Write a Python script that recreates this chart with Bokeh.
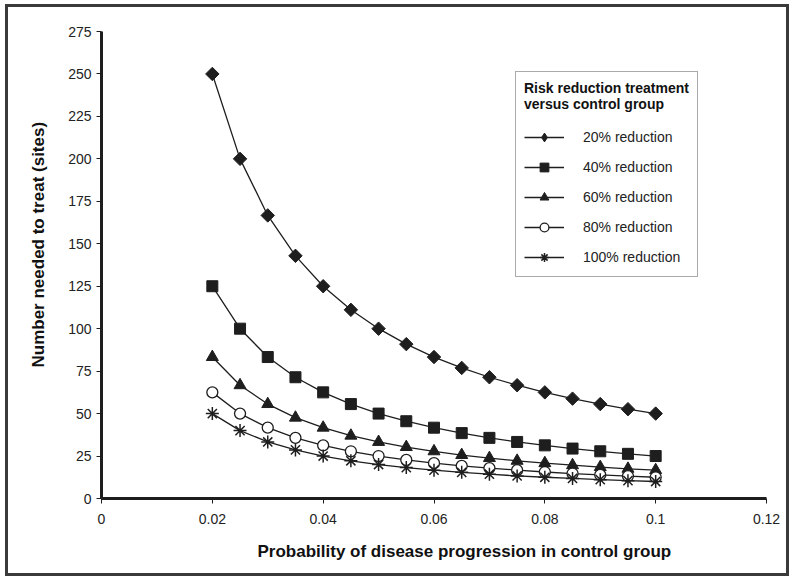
import math
from bokeh.plotting import figure
from bokeh.models import Legend, LegendItem, FixedTicker, NumeralTickFormatter, Range1d, Title
from bokeh.embed import file_html
from bokeh.resources import INLINE

# Data
prob = [0.02, 0.025, 0.03, 0.035, 0.04, 0.045, 0.05, 0.055, 0.06,
        0.065, 0.07, 0.075, 0.08, 0.085, 0.09, 0.095, 0.1]
red20 = [250, 200, 166.7, 142.9, 125, 111.1, 100, 90.9, 83.3, 76.9, 71.4, 66.7, 62.5, 58.8, 55.6, 52.6, 50]
red40 = [125, 100, 83.3, 71.4, 62.5, 55.6, 50, 45.5, 41.7, 38.5, 35.7, 33.3, 31.3, 29.4, 27.8, 26.3, 25]
red60 = [83.3, 66.7, 55.6, 47.6, 41.7, 37.0, 33.3, 30.3, 27.8, 25.6, 23.8, 22.2, 20.8, 19.6, 18.5, 17.5, 16.7]
red80 = [62.5, 50, 41.7, 35.7, 31.3, 27.8, 25, 22.7, 20.8, 19.2, 17.9, 16.7, 15.6, 14.7, 13.9, 13.2, 12.5]
red100 = [50, 40, 33.3, 28.6, 25, 22.2, 20, 18.2, 16.7, 15.4, 14.3, 13.3, 12.5, 11.8, 11.1, 10.5, 10]
labels = ["20% reduction", "40% reduction", "60% reduction", "80% reduction", "100% reduction"]
x_ticks = [0, 0.02, 0.04, 0.06, 0.08, 0.1, 0.12]
y_ticks = [0, 25, 50, 75, 100, 125, 150, 175, 200, 225, 250, 275]
x_title = "Probability of disease progression in control group"
y_title = "Number needed to treat (sites)"
legend_title = "Risk reduction treatment\nversus control group"

FONT = "Liberation Sans"
INK = "#1e1e1e"

p = figure(width=784, height=572, output_backend="svg", toolbar_location=None,
           x_range=Range1d(0, 0.12), y_range=Range1d(0, 275),
           min_border_left=93, min_border_right=26, min_border_top=24, min_border_bottom=81)
p.styles = {"border": "3px solid #3a3a3a", "margin": "4px 0 0 5px"}
p.outline_line_color = None
p.xgrid.visible = False
p.ygrid.visible = False

for ax in (p.xaxis[0], p.yaxis[0]):
    ax.axis_line_width = 3
    ax.axis_line_color = INK
    ax.major_tick_line_color = INK
    ax.major_tick_line_width = 1
    ax.major_tick_out = 5
    ax.major_tick_in = 0
    ax.minor_tick_line_color = None
    ax.major_label_text_font = FONT
    ax.major_label_text_font_size = "14px"
    ax.major_label_text_color = "#222222"

p.xaxis.ticker = FixedTicker(ticks=x_ticks)
p.yaxis.ticker = FixedTicker(ticks=y_ticks)
p.xaxis.formatter = NumeralTickFormatter(format="0.[00]")
p.xaxis.major_label_standoff = 10
p.yaxis.major_label_standoff = 5

p.add_layout(Title(text=x_title, align="left", offset=156, standoff=26,
                   text_font=FONT, text_font_style="bold", text_font_size="17px",
                   text_color="#111111"), "below")
p.add_layout(Title(text=y_title, align="left", offset=131, standoff=36,
                   text_font=FONT, text_font_style="bold", text_font_size="17px",
                   text_color="#111111"), "left")

items = []
series = [red20, red40, red60, red80, red100]
for i, (vals, lab) in enumerate(zip(series, labels)):
    ln = p.line(prob, vals, line_color=INK, line_width=1.3)
    if i == 0:
        mk = p.scatter(prob, vals, marker="square", angle=math.pi / 4, size=9.5, fill_color=INK, line_color=INK)
        # legend-only diamond (legend glyphs are drawn without rotation); its point lies outside the frame
        lg = p.scatter([-1], [-100], marker="diamond", size=15, fill_color=INK, line_color=INK)
        items.append(LegendItem(label=lab, renderers=[ln, lg]))
        continue
    elif i == 1:
        mk = p.scatter(prob, vals, marker="square", size=11, fill_color=INK, line_color=INK)
    elif i == 2:
        mk = p.scatter(prob, vals, marker="triangle", size=12, fill_color=INK, line_color=INK)
    elif i == 3:
        mk = p.scatter(prob, vals, marker="circle", size=11, fill_color="white", line_color=INK, line_width=1.3)
    else:
        mk = p.scatter(prob, vals, marker="asterisk", size=13, line_color=INK, line_width=1.5)
    items.append(LegendItem(label=lab, renderers=[ln, mk]))

legend = Legend(items=items, location=(414, 221),
                title=legend_title,
                title_text_font=FONT, title_text_font_style="bold",
                title_text_font_size="14px", title_text_color="#111111",
                title_text_line_height=1.7,
                label_text_font=FONT, label_text_font_size="14px", label_text_color="#222222",
                border_line_color="#555555", border_line_width=1,
                padding=8, spacing=8, glyph_width=40, glyph_height=22, label_standoff=19,
                background_fill_color="white", title_standoff=14, margin=0)
p.add_layout(legend, "center")

open("out.html", "w").write(file_html(p, INLINE))
